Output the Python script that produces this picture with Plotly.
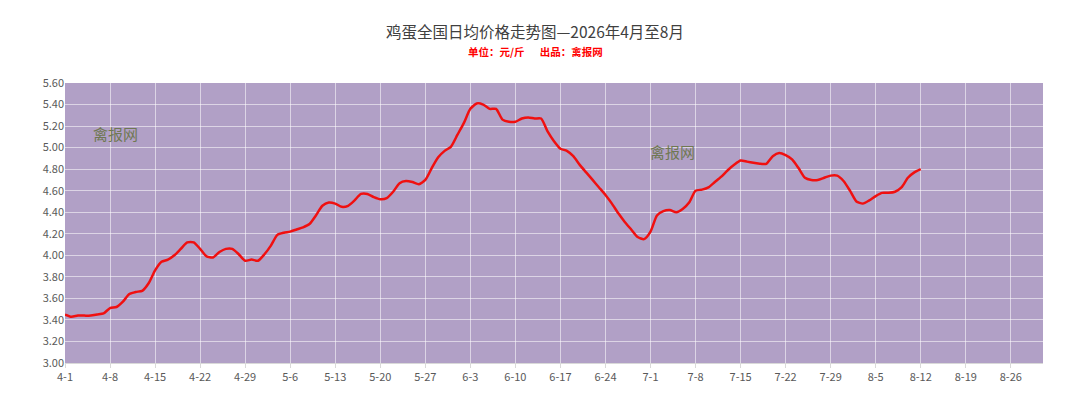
import pandas as pd
import plotly.graph_objects as go

# 鸡蛋全国日均价格 (元/斤), 2026-04-01 起逐日
START_DATE = '2026-04-01'
PRICES = [
    3.45, 3.43, 3.44, 3.44, 3.44, 3.45, 3.46, 3.51, 3.52, 3.57,  # 4-1 .. 4-10
    3.64, 3.66, 3.67, 3.74, 3.86, 3.94, 3.96, 4.00, 4.06, 4.12,  # 4-11 .. 4-20
    4.12, 4.06, 3.99, 3.98, 4.03, 4.06, 4.06, 4.01, 3.95, 3.96,  # 4-21 .. 4-30
    3.95, 4.01, 4.09, 4.19, 4.21, 4.22, 4.24, 4.26, 4.29, 4.37,  # 5-1 .. 5-10
    4.46, 4.49, 4.48, 4.45, 4.46, 4.51, 4.57, 4.57, 4.54, 4.52,  # 5-11 .. 5-20
    4.53, 4.59, 4.67, 4.69, 4.68, 4.66, 4.70, 4.81, 4.91, 4.97,  # 5-21 .. 5-30
    5.01, 5.12, 5.23, 5.36, 5.41, 5.40, 5.36, 5.36, 5.26, 5.24,  # 5-31 .. 6-9
    5.24, 5.27, 5.28, 5.27, 5.27, 5.15, 5.06, 4.99, 4.97, 4.92,  # 6-10 .. 6-19
    4.84, 4.77, 4.70, 4.63, 4.56, 4.48, 4.39, 4.31, 4.24, 4.17,  # 6-20 .. 6-29
    4.15, 4.22, 4.37, 4.41, 4.42, 4.40, 4.43, 4.49, 4.60, 4.61,  # 6-30 .. 7-9
    4.63, 4.68, 4.73, 4.79, 4.84, 4.88, 4.87, 4.86, 4.85, 4.85,  # 7-10 .. 7-19
    4.92, 4.95, 4.93, 4.89, 4.81, 4.72, 4.70, 4.70, 4.72, 4.74,  # 7-20 .. 7-29
    4.74, 4.69, 4.60, 4.50, 4.48, 4.51, 4.55, 4.58, 4.58, 4.59,  # 7-30 .. 8-8
    4.63, 4.72, 4.77, 4.80,                                      # 8-9 .. 8-12
]
X_RANGE = ['2026-04-01', '2026-08-31']
Y_RANGE = [3.0, 5.6]

TITLE = '鸡蛋全国日均价格走势图—2026年4月至8月'
SUBTITLE = '单位：元/斤　  出品：禽报网'
WATERMARK = '禽报网'

FONT = 'Noto Sans CJK SC'

dates = pd.date_range(START_DATE, periods=len(PRICES), freq='D')

fig = go.Figure()
fig.add_trace(go.Scatter(
    x=dates,
    y=PRICES,
    mode='lines',
    line=dict(color='#F01010', width=2.5, shape='spline', smoothing=0.6),
    hovertemplate='%{x|%-m-%-d}<br>%{y:.2f} 元/斤<extra></extra>',
))

# 水印
for wx, wy in [(0.052, 0.82), (0.621, 0.754)]:
    fig.add_annotation(
        xref='paper', yref='paper', x=wx, y=wy,
        xanchor='center', yanchor='middle',
        text=WATERMARK, showarrow=False,
        font=dict(family=FONT, size=15, color='#6F7852'),
    )

# 标题 (绘图区高 280px, 底边在 355px)
fig.add_annotation(
    xref='paper', yref='paper', x=0.481, y=(355 - 23) / 280,
    xanchor='center', yanchor='middle',
    text=TITLE, showarrow=False,
    font=dict(family=FONT, size=15.5, color='#404040'),
)
fig.add_annotation(
    xref='paper', yref='paper', x=0.481, y=(355 - 43.5) / 280,
    xanchor='center', yanchor='middle',
    text='<b>' + SUBTITLE + '</b>', showarrow=False,
    font=dict(family=FONT, size=10.5, color='#FF0000'),
)

fig.update_layout(
    width=1080, height=418,
    margin=dict(l=57, r=45, t=75, b=63),
    paper_bgcolor='white',
    plot_bgcolor='#B1A0C6',
    showlegend=False,
    font=dict(family=FONT, size=11, color='#595959'),
)
fig.update_xaxes(
    range=X_RANGE,
    tick0='2026-04-01', dtick=7 * 24 * 3600 * 1000,
    tickformat='%-m-%-d',
    showgrid=True, gridcolor='rgba(255,255,255,0.55)', gridwidth=1,
    ticks='outside', ticklen=4, tickcolor='#D9D9D9',
    showline=True, linecolor='#D9D9D9',
    zeroline=False,
    tickfont=dict(family=FONT, size=11, color='#595959'),
)
fig.update_yaxes(
    range=Y_RANGE, dtick=0.2, tickformat='.2f',
    showgrid=True, gridcolor='rgba(255,255,255,0.55)', gridwidth=1,
    zeroline=False, showline=False,
    tickfont=dict(family=FONT, size=11, color='#595959'),
)

fig.write_html('out.html')
